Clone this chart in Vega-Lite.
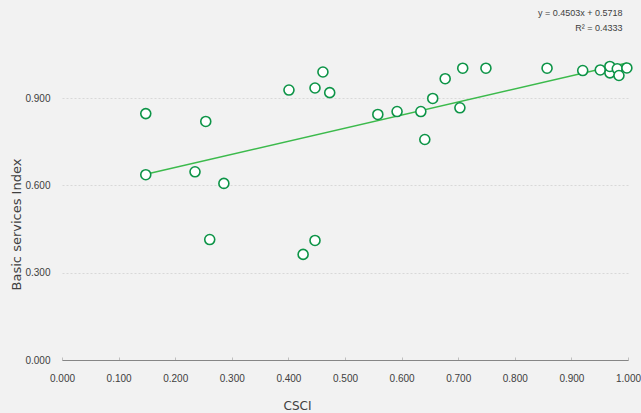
{
  "$schema": "https://vega.github.io/schema/vega-lite/v6.json",
  "autosize": "none",
  "width": 566,
  "height": 320,
  "padding": {"left": 62, "top": 40, "right": 13, "bottom": 53},
  "background": "#f2f2f2",
  "title": {
    "text": "y = 0.4503x + 0.5718",
    "subtitle": "R² = 0.4333",
    "anchor": "end",
    "orient": "top",
    "offset": 7,
    "dx": -18,
    "fontSize": 9,
    "fontWeight": "normal",
    "font": "Liberation Sans",
    "color": "#404040",
    "subtitleFontSize": 9,
    "subtitleFont": "Liberation Sans",
    "subtitleColor": "#404040",
    "subtitlePadding": 6
  },
  "config": {
    "view": {"stroke": null},
    "axis": {"labelFont": "Liberation Sans", "titleFont": "DejaVu Sans", "labelColor": "#404040", "titleColor": "#404040"}
  },
  "datasets": {
    "points": [
      {"CSCI": 0.148, "BSI": 0.847},
      {"CSCI": 0.148, "BSI": 0.637},
      {"CSCI": 0.235, "BSI": 0.647},
      {"CSCI": 0.254, "BSI": 0.820},
      {"CSCI": 0.286, "BSI": 0.607},
      {"CSCI": 0.261, "BSI": 0.414},
      {"CSCI": 0.401, "BSI": 0.928},
      {"CSCI": 0.447, "BSI": 0.935},
      {"CSCI": 0.461, "BSI": 0.990},
      {"CSCI": 0.473, "BSI": 0.919},
      {"CSCI": 0.426, "BSI": 0.363},
      {"CSCI": 0.447, "BSI": 0.411},
      {"CSCI": 0.558, "BSI": 0.844},
      {"CSCI": 0.592, "BSI": 0.854},
      {"CSCI": 0.634, "BSI": 0.854},
      {"CSCI": 0.641, "BSI": 0.758},
      {"CSCI": 0.655, "BSI": 0.899},
      {"CSCI": 0.677, "BSI": 0.967},
      {"CSCI": 0.703, "BSI": 0.867},
      {"CSCI": 0.708, "BSI": 1.003},
      {"CSCI": 0.749, "BSI": 1.003},
      {"CSCI": 0.857, "BSI": 1.003},
      {"CSCI": 0.920, "BSI": 0.995},
      {"CSCI": 0.951, "BSI": 0.997},
      {"CSCI": 0.968, "BSI": 0.987},
      {"CSCI": 0.968, "BSI": 1.009},
      {"CSCI": 0.981, "BSI": 1.001},
      {"CSCI": 0.984, "BSI": 0.978},
      {"CSCI": 0.998, "BSI": 1.004}
    ],
    "trend": [
      {"CSCI": 0.148, "BSI": 0.6384},
      {"CSCI": 0.998, "BSI": 1.0212}
    ]
  },
  "encoding": {
    "x": {
      "field": "CSCI", "type": "quantitative",
      "scale": {"domain": [0, 1], "nice": false, "zero": false},
      "axis": {
        "title": "CSCI",
        "values": [0, 0.1, 0.2, 0.3, 0.4, 0.5, 0.6, 0.7, 0.8, 0.9, 1.0],
        "format": ".3f",
        "grid": false,
        "domainColor": "#868686",
        "domainWidth": 1.2,
        "tickColor": "#bfbfbf",
        "tickSize": -3,
        "labelPadding": 16,
        "labelFontSize": 10,
        "labelFlush": false,
        "titleFontSize": 12,
        "titleFontWeight": "normal",
        "titleX": 235,
        "titleY": 45,
        "titleBaseline": "middle",
        "titleAnchor": null
      }
    },
    "y": {
      "field": "BSI", "type": "quantitative",
      "scale": {"domain": [0, 1.1], "nice": false, "zero": false},
      "axis": {
        "title": "Basic services Index",
        "values": [0, 0.3, 0.6, 0.9],
        "format": ".3f",
        "domain": false,
        "ticks": false,
        "grid": true,
        "gridColor": "#d0d0d0",
        "gridDash": [2, 2],
        "gridWidth": 0.8,
        "labelPadding": 12,
        "labelFontSize": 10,
        "titleFontSize": 13,
        "titleFontWeight": "normal",
        "titleX": -46,
        "titleY": 184,
        "titleBaseline": "middle",
        "titleAnchor": null
      }
    }
  },
  "layer": [
    {
      "data": {"name": "trend"},
      "mark": {"type": "line", "color": "#3cba4c", "strokeWidth": 1.5}
    },
    {
      "data": {"name": "points"},
      "mark": {"type": "point", "shape": "circle", "size": 100, "filled": false, "fill": "#ffffff", "fillOpacity": 1, "stroke": "#0d9447", "strokeWidth": 1.6, "opacity": 1}
    }
  ]
}
